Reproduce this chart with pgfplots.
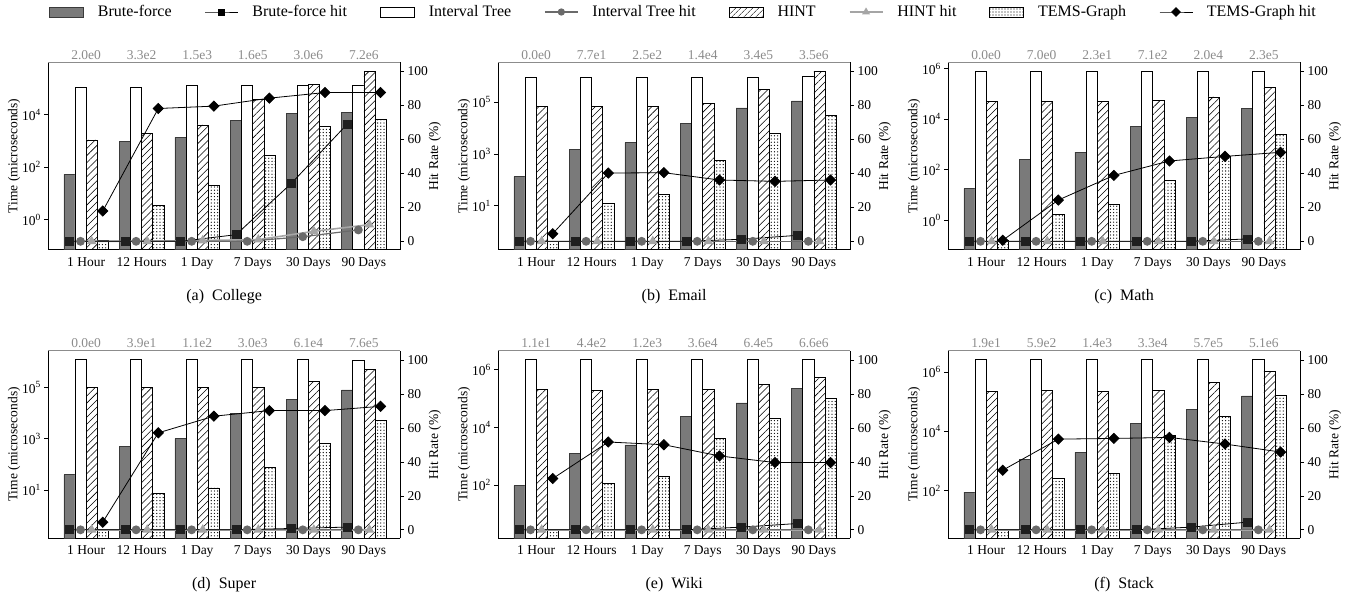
\documentclass[border=0pt]{standalone}
\usepackage{fontspec}
\setmainfont{Liberation Serif}
\usepackage{pgfplots}
\usepackage{pgfplotstable}
\pgfplotsset{compat=1.18}
\usetikzlibrary{patterns.meta}

\definecolor{bffill}{HTML}{7A7A7A}
\definecolor{bfedge}{HTML}{3A3A3A}
\definecolor{itgray}{HTML}{6A6A6A}
\definecolor{hintgray}{HTML}{A5A5A5}
\definecolor{topgray}{HTML}{8C8C8C}

\newcommand{\fs}[1]{\fontsize{#1}{#1}\selectfont}

\pgfplotsset{
  bfbar/.style={ybar, bar width=0.2, bar shift=-0.3, fill=bffill, draw=bfedge, line width=0.7pt},
  itbar/.style={ybar, bar width=0.2, bar shift=-0.1, fill=white, draw=black, line width=0.7pt},
  hintbar/.style={ybar, bar width=0.2, bar shift=0.1, fill=white, draw=black, line width=0.7pt,
     postaction={pattern={Lines[angle=45,distance=5pt,line width=0.55pt]}}},
  temsbar/.style={ybar, bar width=0.2, bar shift=0.3, fill=white, draw=black, line width=0.7pt,
     postaction={pattern={Dots[distance=3.2pt,radius=0.65pt]}}},
  bfhit/.style={black, line width=0.8pt, mark=square*, mark size=4pt, mark options={fill=black!88, draw=black!88}},
  ithit/.style={itgray, line width=1.2pt, mark=*, mark size=3.8pt, mark options={fill=itgray}},
  hinthit/.style={hintgray, line width=1.6pt, mark=triangle*, mark size=4pt, mark options={fill=hintgray}},
  temshit/.style={black, line width=0.8pt, mark=square*, mark size=3.6pt, mark options={rotate=45, fill=black}},
  patchleg/.style={legend image code/.code={\draw[##1] (0pt,-5pt) rectangle (34pt,5pt);}},
  lineleg/.style={legend image code/.code={\draw[mark repeat=2, mark phase=2, ##1] plot coordinates {(0pt,0pt) (16.5pt,0pt) (33pt,0pt)};}},
}

\newcommand{\panel}[9]{%
  \begin{axis}[ymode=log, log origin=infty,
     scale only axis, width=351.7pt, height=187.5pt, anchor=north west,
     xmin=-0.68, xmax=5.65,
     xtick={0,...,5}, xticklabels={1 Hour,12 Hours,1 Day,7 Days,30 Days,90 Days},
     axis y line*=left, axis x line*=bottom, axis line style={line width=0.8pt},
     x tick style={draw=none}, tick align=outside, yminorticks=false,
     y tick style={black, line width=0.7pt}, major tick length=4pt,
     tick label style={font=\fs{13.5}},
     ylabel={Time (microseconds)}, ylabel style={font=\fs{13.5}, at={(axis description cs:-0.0975,0.5)}, anchor=center},
     title style={font=\fs{16}, at={(axis description cs:0.5,-0.28)}, anchor=center},
     at={(#1,#2)}, ymin=#4, ymax=#5, ytick={#6}, yticklabels={#7}, title={#9}]
    \addplot[bfbar] table[x=x, y=bf]{#3};
    \addplot[itbar] table[x=x, y=it]{#3};
    \addplot[hintbar] table[x=x, y=hint]{#3};
    \addplot[temsbar] table[x=x, y=tems]{#3};
  \end{axis}
  \begin{axis}[scale only axis, width=351.7pt, height=187.5pt, anchor=north west,
     xmin=-0.68, xmax=5.65, ymin=-5, ymax=105.4,
     axis y line*=right, axis x line*=top, axis line style={line width=0.8pt},
     x axis line style={topgray},
     xtick={0,...,5}, x tick style={draw=none}, tick align=outside,
     y tick style={black, line width=0.7pt}, major tick length=4pt,
     ytick={0,20,...,100}, yticklabel style={/pgf/number format/assume math mode=true},
     tick label style={font=\fs{13.5}},
     xticklabel style={text=topgray, font=\fs{13.5}, anchor=base, yshift=-1pt},
     ylabel={Hit Rate (\%)}, ylabel style={font=\fs{13.5}, at={(axis description cs:1.0995,0.5)}, anchor=center},
     at={(#1,#2)}, xticklabels={#8}]
    \addplot[hinthit] table[x expr=\thisrow{x}+0.1, y=hinth]{#3};
    \addplot[ithit] table[x expr=\thisrow{x}-0.1, y=ith]{#3};
    \addplot[bfhit] table[x expr=\thisrow{x}-0.3, y=bfh]{#3};
    \addplot[temshit] table[x expr=\thisrow{x}+0.3, y=temsh]{#3};
  \end{axis}
}

% College
\pgfplotstableread{
x bf it hint tems bfh ith hinth temsh
0 54 1.12e5 1090 0.16 0 0 0 17.8
1 940 1.10e5 1950 3.5 0 0 0 78.2
2 1380 1.26e5 4050 21 0 0 0.5 79.6
3 5900 1.26e5 38000 285 3.9 0 1 84.3
4 11200 1.28e5 1.41e5 3500 34.3 2.7 5.9 87.6
5 12600 1.28e5 4.56e5 6600 69 6.7 9.8 87.6
}\tblA
% Email
\pgfplotstableread{
x bf it hint tems bfh ith hinth temsh
0 135 9.5e5 7.0e4 0.42 0 0 0 4.5
1 1480 9.5e5 7.0e4 12.7 0 0 0 40.2
2 2750 9.5e5 7.0e4 26.5 0 0 0 40.4
3 15000 9.5e5 8.7e4 550 0 0 0 36.1
4 60000 9.5e5 3.0e5 6000 1.2 0 0 35.3
5 1.12e5 9.8e5 1.6e6 3.2e4 3.5 0 0 36.1
}\tblB
% Math
\pgfplotstableread{
x bf it hint tems bfh ith hinth temsh
0 18 7.6e5 5.1e4 0.16 0 0 0 0.6
1 250 7.6e5 5.1e4 1.8 0 0 0 24.3
2 500 7.6e5 5.1e4 4.3 0 0 0 38.8
3 5300 7.6e5 5.6e4 39 0 0 0 47.3
4 12000 7.6e5 7.6e4 355 0 0 0 50.0
5 27000 7.6e5 1.8e5 2600 1.4 0 0 52.4
}\tblC
% Super
\pgfplotstableread{
x bf it hint tems bfh ith hinth temsh
0 39 1.29e6 1.0e5 0.28 0 0 0 4.5
1 510 1.29e6 1.0e5 7.4 0 0 0 57.1
2 1000 1.29e6 1.0e5 12 0 0 0 66.9
3 10000 1.29e6 1.0e5 79 0 0 0 70.2
4 34000 1.29e6 1.66e5 660 0.8 0 0 70.2
5 80000 1.18e6 5.2e5 5000 1.6 0 0 72.7
}\tblD
% Wiki
\pgfplotstableread{
x bf it hint tems bfh ith hinth temsh
0 95 2.4e6 2.1e5 2.7 0 0 0 30.2
1 1260 2.4e6 1.9e5 112 0 0 0 51.7
2 2450 2.4e6 2.1e5 206 0 0 0 50.1
3 24000 2.4e6 2.1e5 4200 0 0 0 43.5
4 71000 2.4e6 3.2e5 21000 1.6 0 0 39.6
5 2.2e5 2.4e6 5.4e5 1.03e5 3.7 0 0 39.6
}\tblE
% Stack
\pgfplotstableread{
x bf it hint tems bfh ith hinth temsh
0 90 2.75e6 2.3e5 4.9 0 0 0 35.1
1 1140 2.75e6 2.35e5 268 0 0 0 53.4
2 1960 2.75e6 2.3e5 385 0 0 0 53.8
3 19000 2.75e6 2.45e5 7500 0 0 0 54.4
4 56000 2.75e6 4.6e5 32000 1.6 0 0 50.5
5 1.58e5 2.75e6 1.07e6 1.6e5 4.5 0 0 45.8
}\tblF

\begin{document}
\begin{tikzpicture}
\useasboundingbox (0pt,0pt) rectangle (1354pt,-603pt);

\begin{axis}[hide axis, scale only axis, width=1354pt, height=24pt, at={(0pt,0pt)}, anchor=north west,
  xmin=0, xmax=1, ymin=0, ymax=1,
  legend columns=8,
  legend style={at={(0.5048,0.5)}, anchor=center, draw=none, fill=none, font=\fs{16},
    /tikz/every even column/.append style={column sep=31pt},
    /tikz/every odd column/.append style={column sep=12pt}}]
  \addlegendimage{patchleg, fill=bffill, draw=bfedge, line width=0.7pt}
  \addlegendentry{\fs{16}Brute-force}
  \addlegendimage{lineleg, black, line width=0.8pt, mark=square*, mark size=3pt}
  \addlegendentry{\fs{16}Brute-force hit}
  \addlegendimage{patchleg, fill=white, draw=black, line width=0.7pt}
  \addlegendentry{\fs{16}Interval Tree}
  \addlegendimage{lineleg, itgray, line width=1.2pt, mark=*, mark size=3pt}
  \addlegendentry{\fs{16}Interval Tree hit}
  \addlegendimage{patchleg, draw=black, line width=0.7pt, postaction={pattern={Lines[angle=45,distance=4pt,line width=0.5pt]}}}
  \addlegendentry{\fs{16}HINT}
  \addlegendimage{lineleg, hintgray, line width=1.6pt, mark=triangle*, mark size=3pt}
  \addlegendentry{\fs{16}HINT hit}
  \addlegendimage{patchleg, draw=black, line width=0.7pt, postaction={pattern={Dots[distance=3pt,radius=0.6pt]}}}
  \addlegendentry{\fs{16}TEMS-Graph}
  \addlegendimage{lineleg, black, line width=0.8pt, mark=square*, mark size=3pt, mark options={rotate=45}}
  \addlegendentry{\fs{16}TEMS-Graph hit}
\end{axis}

\panel{48.3pt}{-62.3pt}{\tblA}{0.0724}{9.8e5}{1,100,10000}{10\textsuperscript{0},10\textsuperscript{2},10\textsuperscript{4}}{2.0e0,3.3e2,1.5e3,1.6e5,3.0e6,7.2e6}{(a)\enspace College}
\panel{498.3pt}{-62.3pt}{\tblB}{0.2}{3.47e6}{10,1000,100000}{10\textsuperscript{1},10\textsuperscript{3},10\textsuperscript{5}}{0.0e0,7.7e1,2.5e2,1.4e4,3.4e5,3.5e6}{(b)\enspace Email}
\panel{948.3pt}{-62.3pt}{\tblC}{0.069}{1.78e6}{1,100,10000,1000000}{10\textsuperscript{0},10\textsuperscript{2},10\textsuperscript{4},10\textsuperscript{6}}{0.0e0,7.0e0,2.3e1,7.1e2,2.0e4,2.3e5}{(c)\enspace Math}
\panel{48.3pt}{-350.8pt}{\tblD}{0.129}{2.69e6}{10,1000,100000}{10\textsuperscript{1},10\textsuperscript{3},10\textsuperscript{5}}{0.0e0,3.9e1,1.1e2,3.0e3,6.1e4,7.6e5}{(d)\enspace Super}
\panel{498.3pt}{-350.8pt}{\tblE}{1.4}{4.57e6}{100,10000,1000000}{10\textsuperscript{2},10\textsuperscript{4},10\textsuperscript{6}}{1.1e1,4.4e2,1.2e3,3.6e4,6.4e5,6.6e6}{(e)\enspace Wiki}
\panel{948.3pt}{-350.8pt}{\tblF}{2.5}{5.25e6}{100,10000,1000000}{10\textsuperscript{2},10\textsuperscript{4},10\textsuperscript{6}}{1.9e1,5.9e2,1.4e3,3.3e4,5.7e5,5.1e6}{(f)\enspace Stack}
\end{tikzpicture}
\end{document}
